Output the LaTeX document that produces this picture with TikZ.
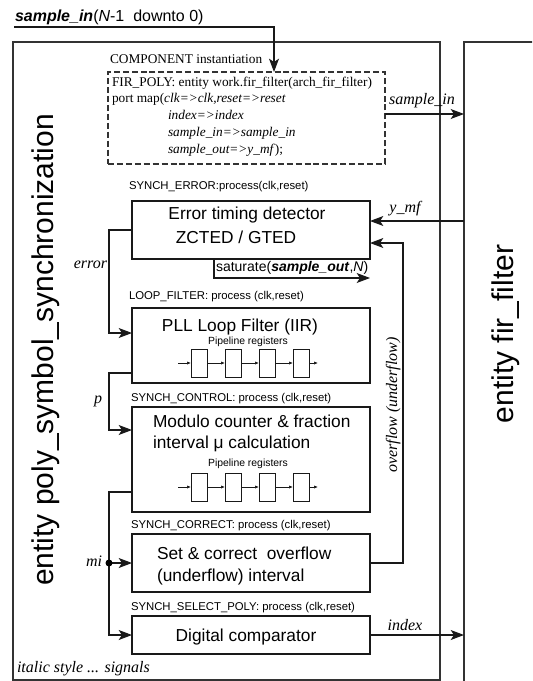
\documentclass[tikz,border=0pt]{standalone}
\usepackage{fontspec}
\setmainfont{Liberation Serif}
\setsansfont{Liberation Sans}
\usetikzlibrary{arrows.meta,fit}
\newcommand\bxfont{\sffamily\fontsize{13}{15}\selectfont}
\newcommand\lbfont{\sffamily\fontsize{8.5}{10}\selectfont}
\newcommand\pgfont{\sffamily\fontsize{7.8}{9}\selectfont}
\newcommand\sgfont{\rmfamily\itshape\fontsize{12}{14}\selectfont}
\newcommand\cmfont{\rmfamily\fontsize{10}{12}\selectfont}
\newcommand\enfont{\sffamily\fontsize{22.5}{26}\selectfont}
\tikzset{
  every node/.style={inner sep=0pt, outer sep=0pt},
  outerbox/.style={draw=black!80, line width=1.3pt},
  blk/.style={draw=black!90, line width=0.9pt},
  dbox/.style={draw=black!80, line width=0.9pt, dash pattern=on 4.5pt off 2.2pt},
  reg/.style={draw=black!90, line width=0.6pt, minimum width=12pt, minimum height=21pt},
  sig/.style={draw=black!90, line width=0.8pt},
  arr/.style={sig, -{Stealth[length=10pt,width=7.5pt,inset=2.5pt]}},
  smallarr/.style={draw=black!90, line width=0.5pt, -{Latex[length=3pt,width=2.4pt]}},
}
\begin{document}
\begin{tikzpicture}[x=0.75pt,y=-0.75pt]
\useasboundingbox (0,0) rectangle (532,681);
\clip (0,0) rectangle (532,681);
% entity frames
\node[outerbox, fit={(13,42) (440,680)}] (outer) {};
\node[outerbox, fit={(464,42) (560,700)}] (rbox) {};
\node[rotate=90, anchor=base, font=\enfont] (ent1) at (53,350) {entity poly\_symbol\_synchronization};
\node[rotate=90, anchor=base, font=\enfont] (ent2) at (513,334) {entity fir\_filter};
% title input
\node[anchor=base west, font=\sffamily\fontsize{12}{14}\selectfont] (title) at (15,22)
  {\textbf{\textit{sample\_in}}(\textit{N}-1\ \ downto 0)};
\coordinate (tstart) at (14,27);
\coordinate (tcorner) at (274,27);
% component instantiation
\node[anchor=base west, font=\cmfont] (complbl) at (110,64) {COMPONENT instantiation};
\node[dbox, fit={(108,72) (385,164)}] (comp) {};
\node[anchor=base west, font=\cmfont] (c1) at (112,87) {FIR\_POLY: entity work.fir\_filter(arch\_fir\_filter)};
\node[anchor=base west, font=\cmfont] (c2) at (112,103) {port map(\textit{clk=>clk,reset=>reset}};
\node[anchor=base west, font=\cmfont] (c3) at (168,120) {\textit{index=>index}};
\node[anchor=base west, font=\cmfont] (c4) at (168,137) {\textit{sample\_in=>sample\_in}};
\node[anchor=base west, font=\cmfont] (c5) at (168,153) {\textit{sample\_out=>y\_mf}\/);};
\draw[arr] (tstart) -- (tcorner) -- (tcorner |- comp.north);
\coordinate (siout) at (385,114);
\draw[arr] (siout) -- (siout -| rbox.west);
\node[anchor=base, font=\sgfont] (silbl) at (422,105) {sample\_in};
% error detector
\node[anchor=base west, font=\lbfont] (l1) at (129,190) {SYNCH\_ERROR:process(clk,reset)};
\node[blk, fit={(132,201) (370,259)}] (err) {};
\node[anchor=base, font=\bxfont] (t1a) at (247,219) {Error timing detector};
\node[anchor=base, font=\bxfont] (t1b) at (236,243) {ZCTED / GTED};
\coordinate (ymf) at (464,221);
\draw[arr] (ymf) -- (ymf -| err.east);
\node[anchor=base, font=\sgfont] (ymflbl) at (405,212) {y\_mf};
\coordinate (satc) at (214,278);
\coordinate (satend) at (370,278);
\draw[arr] (satc |- err.south) -- (satc) -- (satend);
\node[anchor=base west, font=\sffamily\fontsize{10.5}{12}\selectfont] (satlbl) at (216,271)
  {saturate(\textbf{\textit{sample\_out}},\textit{N})};
% loop filter
\node[anchor=base west, font=\lbfont] (l2) at (129,299) {LOOP\_FILTER: process (clk,reset)};
\node[blk, fit={(132,308) (370,383)}] (pll) {};
\node[anchor=base, font=\bxfont] (t2) at (240,331) {PLL Loop Filter (IIR)};
\node[anchor=base, font=\pgfont] (pg1) at (248,344) {Pipeline registers};
\foreach \i in {0,1,2,3} {\node[reg] (pa\i) at (199+34*\i,363) {};}
\coordinate (pain) at (178,363);
\coordinate (paout) at (318,363);
\draw[smallarr] (pain) -- (pa0.west);
\draw[smallarr] (pa0.east) -- (pa1.west);
\draw[smallarr] (pa1.east) -- (pa2.west);
\draw[smallarr] (pa2.east) -- (pa3.west);
\draw[smallarr] (pa3.east) -- (paout);
% modulo counter
\node[anchor=base west, font=\lbfont] (l3) at (131,401) {SYNCH\_CONTROL: process (clk,reset)};
\node[blk, fit={(132,407) (370,512)}] (mod) {};
\node[anchor=base west, font=\bxfont] (t3a) at (153,427) {Modulo counter \& fraction};
\node[anchor=base west, font=\bxfont] (t3b) at (153,448) {interval μ calculation};
\node[anchor=base, font=\pgfont] (pg2) at (248,466) {Pipeline registers};
\foreach \i in {0,1,2,3} {\node[reg] (pb\i) at (199+34*\i,487) {};}
\coordinate (pbin) at (178,487);
\coordinate (pbout) at (318,487);
\draw[smallarr] (pbin) -- (pb0.west);
\draw[smallarr] (pb0.east) -- (pb1.west);
\draw[smallarr] (pb1.east) -- (pb2.west);
\draw[smallarr] (pb2.east) -- (pb3.west);
\draw[smallarr] (pb3.east) -- (pbout);
% set & correct
\node[anchor=base west, font=\lbfont] (l4) at (131,528) {SYNCH\_CORRECT: process (clk,reset)};
\node[blk, fit={(132,534) (370,592)}] (set) {};
\node[anchor=base west, font=\bxfont] (t4a) at (157,559) {Set \& correct\ \ overflow};
\node[anchor=base west, font=\bxfont] (t4b) at (157,581) {(underflow) interval};
% comparator
\node[anchor=base west, font=\lbfont] (l5) at (131,610) {SYNCH\_SELECT\_POLY: process (clk,reset)};
\node[blk, fit={(132,616) (370,654)}] (cmp) {};
\node[anchor=base, font=\bxfont] (t5) at (246,641) {Digital comparator};
\draw[arr] (cmp.east) -- (cmp.east -| rbox.west);
\node[anchor=base, font=\sgfont] (idxlbl) at (405,630) {index};
% overflow feedback
\coordinate (ovf) at (403,243);
\draw[arr] (set.east) -| (ovf) -- (ovf -| err.east);
\node[rotate=90, anchor=base, font=\sgfont] (ovflbl) at (397,405) {overflow (underflow)};
% error -> loop filter
\coordinate (ein) at (109,333);
\draw[arr] (err.west) -| (ein) -- (ein -| pll.west);
\node[anchor=base east, font=\sgfont] (errlbl) at (107,268) {error};
% p
\coordinate (pl) at (109,373);
\coordinate (pin) at (109,430);
\draw[arr] (pl -| pll.west) -- (pl) -- (pin) -- (pin -| mod.west);
\node[anchor=base east, font=\sgfont] (plbl) at (102,403) {p};
% mi
\coordinate (ml) at (109,492);
\coordinate (md) at (109,563);
\coordinate (mb) at (109,635);
\draw[arr] (ml -| mod.west) -- (ml) -- (mb) -- (mb -| cmp.west);
\draw[arr] (md) -- (md -| set.west);
\fill[black] (md) circle (3.5);
\node[anchor=base east, font=\sgfont] (milbl) at (102,566) {mi};
% legend
\node[anchor=base west, font=\sgfont] (legend) at (17,672) {italic style ... signals};
\end{tikzpicture}
\end{document}
